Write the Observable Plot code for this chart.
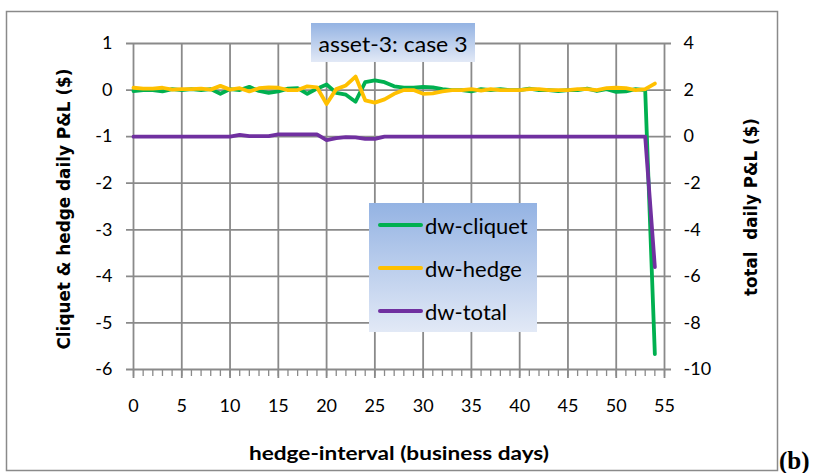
<!DOCTYPE html>
<html>
<head>
<meta charset="utf-8">
<script src="https://cdn.jsdelivr.net/npm/d3@7"></script>
<script src="https://cdn.jsdelivr.net/npm/@observablehq/plot@0.6"></script>
<style>
  html, body { margin: 0; padding: 0; background: white; }
  #chart { position: relative; width: 819px; height: 473px; }
</style>
</head>
<body>
<div id="chart"></div>
<script>
// ---- data ----
const days = d3.range(0, 55);
const cliquet = [
  -0.02, 0.0, 0.0, -0.03, 0.02, 0.0, 0.02, 0.0, 0.02, -0.08,
  0.02, 0.0, 0.07, -0.02, -0.06, -0.03, 0.03, 0.04, -0.08, 0.03,
  0.12, -0.06, -0.1, -0.25, 0.17, 0.21, 0.17, 0.08, 0.05, 0.05,
  0.07, 0.06, 0.02, 0.0, 0.0, -0.03, 0.02, 0.0, 0.02, 0.0,
  0.0, 0.03, 0.0, 0.0, -0.02, 0.0, 0.0, 0.03, -0.02, 0.02,
  -0.04, -0.03, 0.02, 0.0, -5.67
];
const hedge = [
  0.05, 0.03, 0.03, 0.05, 0.01, 0.02, 0.02, 0.03, 0.01, 0.09,
  0.01, 0.04, -0.03, 0.04, 0.06, 0.05, 0.0, 0.0, 0.08, 0.06,
  -0.3, 0.02, 0.1, 0.29, -0.22, -0.27, -0.2, -0.08, 0.0, 0.0,
  -0.08, -0.07, -0.03, 0.0, 0.0, 0.02, -0.01, 0.02, 0.0, 0.0,
  0.0, 0.02, 0.02, 0.0, 0.0, 0.0, 0.02, 0.02, 0.0, 0.04,
  0.05, 0.04, 0.0, 0.02, 0.14
];
// total daily P&L, right axis
const total = [
  0, 0, 0, 0, 0, 0, 0, 0, 0, 0,
  0, 0.08, 0.02, 0.02, 0.02, 0.1, 0.1, 0.1, 0.1, 0.1,
  -0.15, -0.06, -0.02, -0.03, -0.1, -0.1, 0, 0, 0, 0,
  0, 0, 0, 0, 0, 0, 0, 0, 0, 0,
  0, 0, 0, 0, 0, 0, 0, 0, 0, 0,
  0, 0, 0, 0, -5.6
];
const xMajor = d3.range(0, 56, 5);
const xMinor = d3.range(0, 56, 1);
const yLeftTicks = [1, 0, -1, -2, -3, -4, -5, -6];
const seriesNames = ["dw-cliquet", "dw-hedge", "dw-total"];
const seriesColors = ["#00b050", "#ffc000", "#7030a0"];
const titleText = "asset-3: case 3";
const yLeftLabel = "Cliquet & hedge daily P&L ($)";
const yRightLabel = "total\u00a0\u00a0daily P&L ($)";
const xLabel = "hedge-interval (business days)";

// right axis t maps to left value (t - 2) / 2
const toLeft = t => (t - 2) / 2;
const toRight = v => 2 * v + 2;

const rowsC = days.map((d, i) => ({day: d, v: cliquet[i]}));
const rowsH = days.map((d, i) => ({day: d, v: hedge[i]}));
const rowsT = days.map((d, i) => ({day: d, v: toLeft(total[i])}));

const grid = "#8a8a8a";

const svg = Plot.plot({
  width: 819,
  height: 473,
  marginLeft: 133,
  marginRight: 155,
  marginTop: 43,
  marginBottom: 104,
  x: {domain: [0, 55]},
  y: {domain: [-6, 1]},
  style: {fontFamily: "Lato, 'Open Sans', sans-serif", fontSize: "18px", color: "black", background: "white"},
  marks: [
    Plot.ruleY(yLeftTicks, {stroke: grid, strokeWidth: 1.8, insetLeft: -7, insetRight: -7}),
    Plot.ruleX(xMajor, {stroke: grid, strokeWidth: 1.8, insetBottom: -9}),
    Plot.axisX(xMinor, {tickSize: 7, tickFormat: () => "", stroke: grid, strokeWidth: 1.3, label: null}),
    Plot.axisX(xMajor, {tickSize: 0, tickPadding: 30, tickFormat: d => String(d), label: null}),
    Plot.axisY(yLeftTicks, {anchor: "left", tickSize: 0, tickPadding: 21, tickFormat: d => String(d), label: null}),
    Plot.axisY(yLeftTicks, {anchor: "right", tickSize: 0, tickPadding: 19, tickFormat: d => String(toRight(d)), label: null}),
    Plot.line(rowsC, {x: "day", y: "v", stroke: seriesColors[0], strokeWidth: 3.8, strokeLinejoin: "round"}),
    Plot.line(rowsH, {x: "day", y: "v", stroke: seriesColors[1], strokeWidth: 3.8, strokeLinejoin: "round"}),
    Plot.line(rowsT, {x: "day", y: "v", stroke: seriesColors[2], strokeWidth: 3.8, strokeLinejoin: "round"})
  ]
});

document.getElementById("chart").appendChild(svg);

// ---- annotations (border, title box, legend, axis titles) ----
const s = d3.select(svg);
const defs = s.append("defs");
const grad = defs.append("linearGradient").attr("id", "boxgrad").attr("x1", 0).attr("y1", 0).attr("x2", 0).attr("y2", 1);
grad.append("stop").attr("offset", "0%").attr("stop-color", "#94b3e3");
grad.append("stop").attr("offset", "100%").attr("stop-color", "#e2e9f6");

s.append("rect").attr("x", 6.5).attr("y", 11.5).attr("width", 771).attr("height", 459)
  .attr("fill", "none").attr("stroke", grid).attr("stroke-width", 1.5);

// title box
s.append("rect").attr("x", 311).attr("y", 23).attr("width", 164).attr("height", 39).attr("fill", "url(#boxgrad)");
s.append("text").attr("x", 393).attr("y", 43).attr("text-anchor", "middle").attr("dominant-baseline", "central")
  .attr("font-family", "Lato, sans-serif").attr("font-size", 21).attr("fill", "black")
  .attr("textLength", 149).attr("lengthAdjust", "spacingAndGlyphs").text(titleText);

// legend box
s.append("rect").attr("x", 369).attr("y", 203).attr("width", 168).attr("height", 129).attr("fill", "url(#boxgrad)");
const legY = [225, 268, 311];
seriesNames.forEach((name, i) => {
  s.append("line").attr("x1", 380).attr("x2", 421).attr("y1", legY[i]).attr("y2", legY[i])
    .attr("stroke", seriesColors[i]).attr("stroke-width", 4).attr("stroke-linecap", "round");
  s.append("text").attr("x", 425).attr("y", legY[i]).attr("text-anchor", "start").attr("dominant-baseline", "central")
    .attr("font-family", "Lato, sans-serif").attr("font-size", 22).attr("fill", "black").text(name);
});

// axis titles
s.append("text").attr("transform", "translate(64,209) rotate(-90)").attr("text-anchor", "middle")
  .attr("dominant-baseline", "central").attr("font-family", "'DejaVu Sans', sans-serif").attr("font-weight", "bold")
  .attr("font-size", 17).attr("fill", "black").attr("textLength", 281).attr("lengthAdjust", "spacingAndGlyphs")
  .text(yLeftLabel);
s.append("text").attr("transform", "translate(751,207) rotate(-90)").attr("text-anchor", "middle")
  .attr("dominant-baseline", "central").attr("font-family", "'DejaVu Sans', sans-serif").attr("font-weight", "bold")
  .attr("font-size", 17).attr("fill", "black").attr("textLength", 178).attr("lengthAdjust", "spacingAndGlyphs")
  .text(yRightLabel);
s.append("text").attr("x", 399).attr("y", 452).attr("text-anchor", "middle").attr("dominant-baseline", "central")
  .attr("font-family", "Lato, sans-serif").attr("font-weight", "bold").attr("font-size", 19).attr("fill", "black")
  .attr("textLength", 300).attr("lengthAdjust", "spacingAndGlyphs").text(xLabel);
s.append("text").attr("x", 779).attr("y", 469).attr("text-anchor", "start")
  .attr("font-family", "'Liberation Serif', serif").attr("font-weight", "bold").attr("font-size", 25).attr("fill", "black")
  .text("(b)");
</script>
</body>
</html>
